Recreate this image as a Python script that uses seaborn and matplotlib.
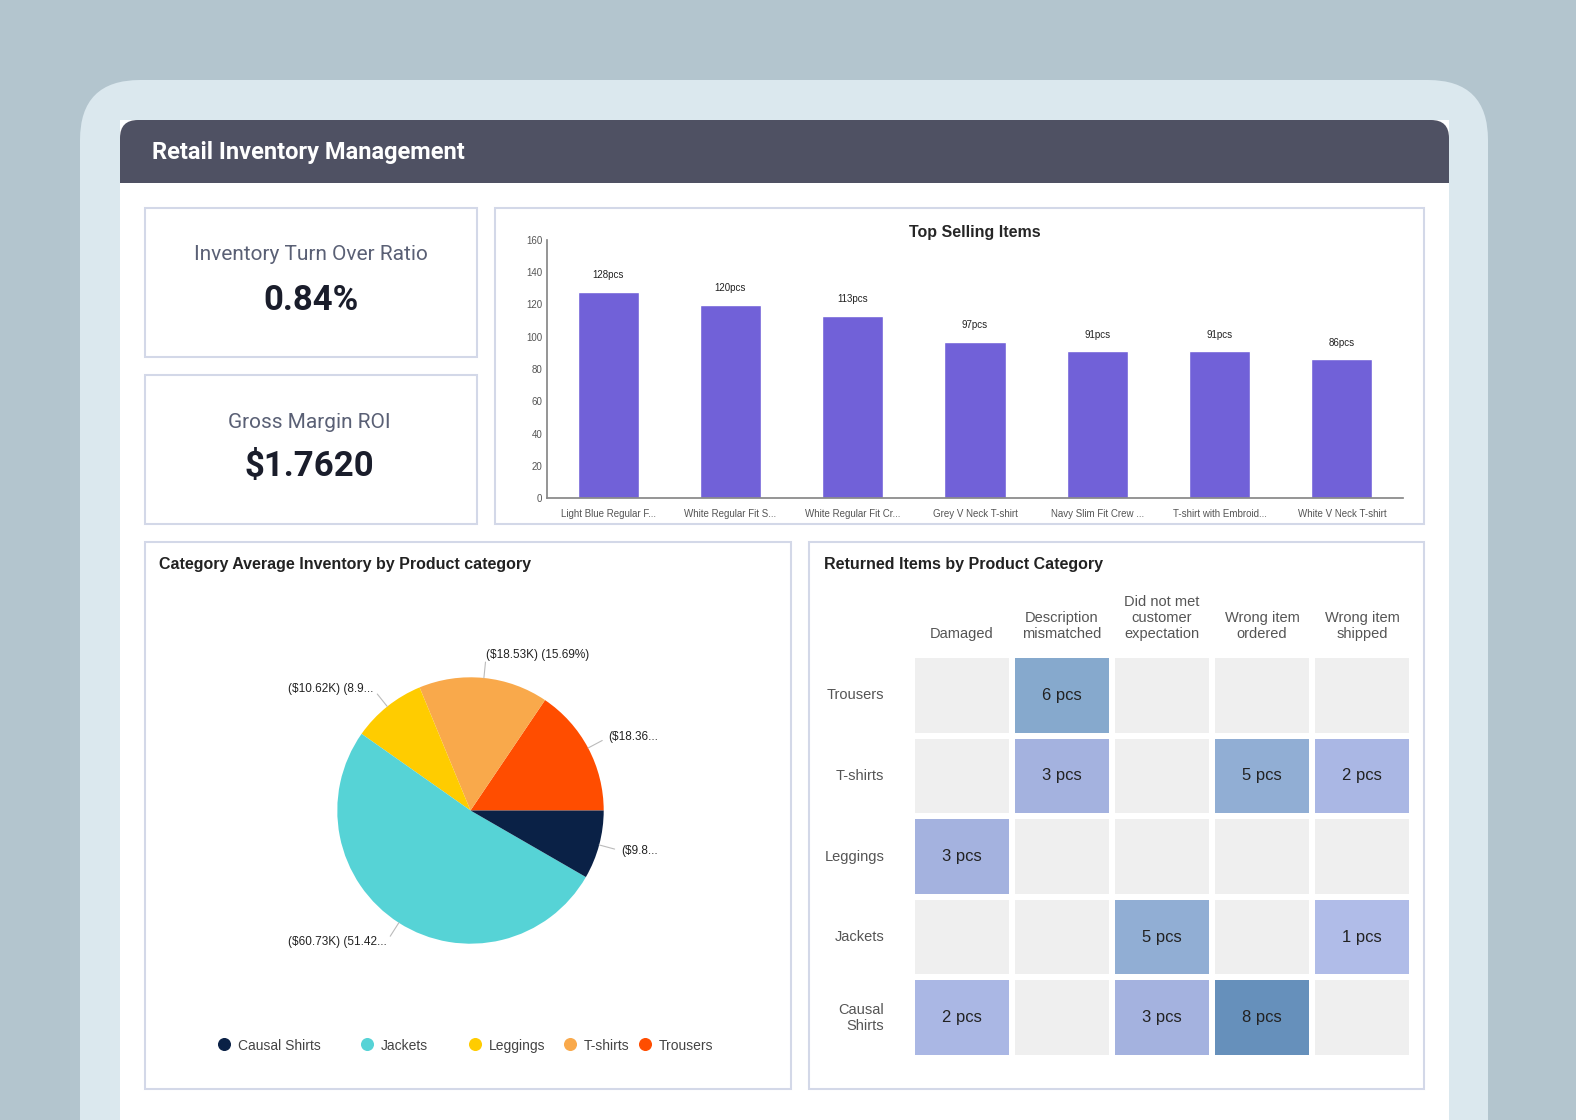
import numpy as np
import pandas as pd
import matplotlib
matplotlib.use("Agg")
import matplotlib.pyplot as plt
from matplotlib.patches import FancyBboxPatch, Rectangle
from matplotlib.colors import LinearSegmentedColormap
import seaborn as sns

sns.set_theme(style="white")
plt.rcParams['font.family'] = ['Liberation Sans', 'DejaVu Sans']

items = ["Light Blue Regular F...", "White Regular Fit S...", "White Regular Fit Cr...",
         "Grey V Neck T-shirt", "Navy Slim Fit Crew ...", "T-shirt with Embroid...", "White V Neck T-shirt"]
sold = [128, 120, 113, 97, 91, 91, 86]

pie_cats = ["Causal Shirts", "Jackets", "Leggings", "T-shirts", "Trousers"]
pie_vals = [9.83, 60.73, 10.62, 18.53, 18.36]
pie_labels = ["($9.8...", "($60.73K) (51.42...", "($10.62K) (8.9...", "($18.53K) (15.69%)", "($18.36..."]
pie_colors = ["#0a2146", "#56d3d6", "#ffcc00", "#f9a94b", "#ff4d00"]

reasons = ["Damaged", "Description\nmismatched", "Did not met\ncustomer\nexpectation", "Wrong item\nordered", "Wrong item\nshipped"]
ret_cats = ["Trousers", "T-shirts", "Leggings", "Jackets", "Causal\nShirts"]
returns = [[0, 6, 0, 0, 0],
           [0, 3, 0, 5, 2],
           [3, 0, 0, 0, 0],
           [0, 0, 5, 0, 1],
           [2, 0, 3, 8, 0]]

W, H = 1576, 1120
fig = plt.figure(figsize=(W/100, H/100), dpi=100)
fig.patch.set_facecolor("#b3c5ce")

def ax_px(x, y, w, h, **kw):
    return fig.add_axes([x/W, 1-(y+h)/H, w/W, h/H], **kw)

bg = ax_px(0, 0, W, H); bg.set_xlim(0, W); bg.set_ylim(H, 0); bg.axis("off")
bg.add_patch(FancyBboxPatch((80, 80), 1408, 1100, boxstyle="round,pad=0,rounding_size=60",
                            fc="#dbe8ee", ec="none"))
bg.add_patch(Rectangle((120, 120), 1329, 1000, fc="white", ec="none"))
bg.add_patch(FancyBboxPatch((120, 120), 1329, 63, boxstyle="round,pad=0,rounding_size=18",
                            fc="#4f5163", ec="none"))
bg.add_patch(Rectangle((120, 150), 1329, 33, fc="#4f5163", ec="none"))
bg.text(152, 152, "Retail Inventory Management", color="white", fontsize=17, fontweight="bold",
        va="center", family=["Roboto", "DejaVu Sans"])
for (x, y, w, h) in [(145, 208, 332, 149), (145, 375, 332, 149), (495, 208, 929, 316),
                     (145, 542, 646, 547), (809, 542, 615, 547)]:
    bg.add_patch(Rectangle((x, y), w, h, fc="white", ec="#d3d8e8", lw=1.5))
bg.text(311, 255, "Inventory Turn Over Ratio", ha="center", va="center", fontsize=15, color="#5a6075",
        family=["Roboto", "DejaVu Sans"])
bg.text(311, 300, "0.84%", ha="center", va="center", fontsize=25, fontweight="bold", color="#1a1d2b",
        family=["Roboto", "DejaVu Sans"])
bg.text(309, 422, "Gross Margin ROI", ha="center", va="center", fontsize=15, color="#5a6075",
        family=["Roboto", "DejaVu Sans"])
bg.text(309, 467, "$1.7620", ha="center", va="center", fontsize=25, fontweight="bold", color="#1a1d2b",
        family=["Roboto", "DejaVu Sans"])
bg.text(159, 564, "Category Average Inventory by Product category", fontsize=11.5, fontweight="bold",
        va="center", color="#222")
bg.text(824, 564, "Returned Items by Product Category", fontsize=11.5, fontweight="bold",
        va="center", color="#222")

# Bar chart
ax = ax_px(547, 240, 856, 258)
df = pd.DataFrame({"item": items, "sold": sold})
sns.barplot(data=df, x="item", y="sold", color="#7161d8", saturation=1, width=0.5, ax=ax)
ax.set_ylim(0, 160)
ax.set_yticks(range(0, 161, 20))
ax.tick_params(axis="y", labelsize=7, colors="#555", length=0)
ax.tick_params(axis="x", labelsize=7, colors="#555", length=0, pad=8)
ax.set_xlabel(""); ax.set_ylabel("")
for s in ["top", "right"]:
    ax.spines[s].set_visible(False)
ax.spines["left"].set_color("#888"); ax.spines["bottom"].set_color("#888")
for i, v in enumerate(sold):
    ax.text(i, v + 7, f"{v}pcs", ha="center", va="bottom", fontsize=7, color="#222")
ax.set_title("Top Selling Items", fontsize=11.5, fontweight="bold", pad=0, y=1.01)
ax.set_facecolor("white")

# Pie
pax = ax_px(304, 644, 333, 333)
order = [4, 3, 2, 1, 0]
wedges, texts = pax.pie([pie_vals[i] for i in order], colors=[pie_colors[i] for i in order],
                        labels=[pie_labels[i] for i in order], startangle=0, counterclock=True,
                        labeldistance=1.17, wedgeprops=dict(linewidth=0),
                        textprops=dict(fontsize=8.5, color="#222"))
for w, t in zip(wedges, texts):
    x, y = t.get_position()
    t.set_ha("left" if x > 0 else "right")
    ang = np.deg2rad((w.theta1 + w.theta2) / 2)
    pax.plot([1.0*np.cos(ang), 1.12*np.cos(ang)], [1.0*np.sin(ang), 1.12*np.sin(ang)],
             color="#bbb", lw=0.8)
pax.set_aspect("equal")

# Pie legend
lax = ax_px(200, 1025, 560, 35); lax.axis("off"); lax.set_xlim(0, 560); lax.set_ylim(0, 1)
lx = [24, 167, 275, 370, 445]
for i, c in enumerate(pie_cats):
    lax.scatter(lx[i], 0.45, s=70, color=pie_colors[i])
    lax.text(lx[i] + 14, 0.4, c, va="center", fontsize=10, color="#444")

# Heatmap
hax = ax_px(912, 655, 500, 403)
arr = np.array(returns, dtype=float)
annot = np.array([[f"{v} pcs" if v else "" for v in r] for r in returns])
hax.set_facecolor("white")
sns.heatmap(np.zeros_like(arr), cmap=LinearSegmentedColormap.from_list("g", ["#efefef", "#efefef"]),
            cbar=False, linewidths=3, linecolor="white", ax=hax)
cmap = LinearSegmentedColormap.from_list("b", ["#b0bce8", "#a2b0de", "#8badd0", "#6690bb"])
sns.heatmap(arr, mask=arr == 0, cmap=cmap, vmin=1, vmax=8, annot=annot, fmt="",
            annot_kws=dict(fontsize=12, color="#222"), cbar=False, linewidths=3, linecolor="white", ax=hax)
hax.set_xticklabels(reasons, fontsize=10.5, color="#555", rotation=0)
hax.set_yticklabels(ret_cats, fontsize=10.5, color="#555", rotation=0)
hax.xaxis.tick_top()
hax.tick_params(length=0, pad=10)
hax.tick_params(axis="y", pad=20)

fig.savefig("out.png", dpi=100, facecolor=fig.get_facecolor())
